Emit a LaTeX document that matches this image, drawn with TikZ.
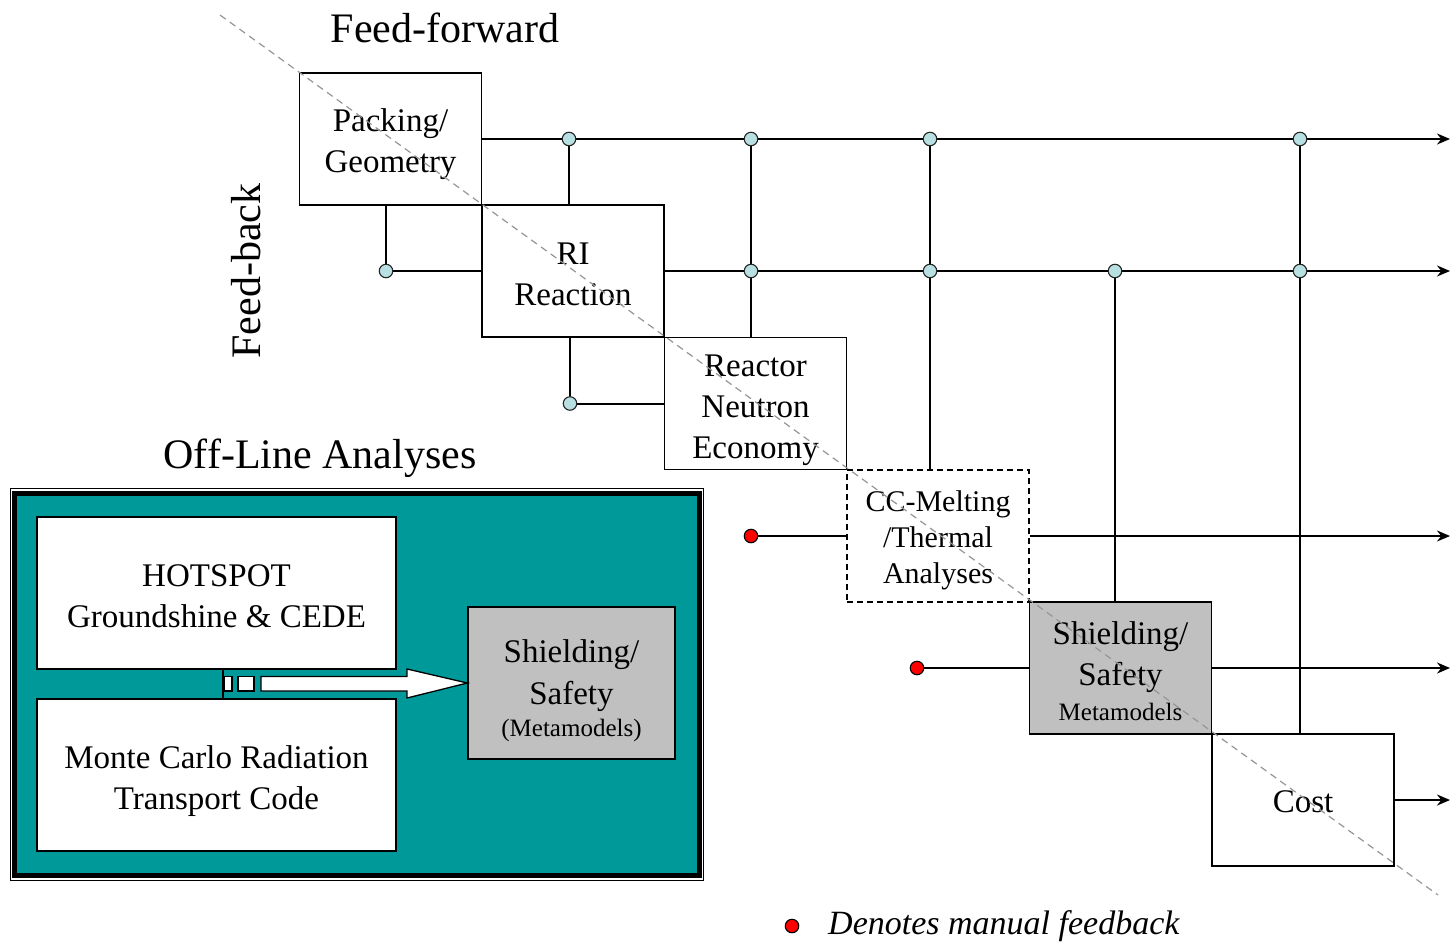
\documentclass[tikz,border=0pt]{standalone}
\usepackage{fontspec}
\setmainfont{Liberation Serif}
\usetikzlibrary{arrows.meta,calc}
\definecolor{junction}{RGB}{184,224,226}
\definecolor{tealfill}{RGB}{0,153,153}
\definecolor{silverfill}{RGB}{192,192,192}
\definecolor{diaggray}{RGB}{150,150,150}
% strut that sets the height of a node's first text line
\newcommand{\firstline}[1]{\rule{0pt}{#1}}
\tikzset{
  stage/.style={draw=black, line width=1.4pt, fill=white, inner sep=0pt,
    minimum width=182pt, minimum height=132pt, align=center,
    font=\fontsize{33}{41}\selectfont},
  link/.style={line width=2pt, black},
  outlink/.style={link, -{Stealth[length=13pt,width=11pt]}},
  jdot/.style={circle, fill=junction, draw=black!85, line width=1.1pt,
    inner sep=0pt, minimum size=13.5pt},
  rdot/.style={circle, fill=red, draw=black, line width=1.1pt,
    inner sep=0pt, minimum size=13.5pt},
  toolbox/.style={draw=black, line width=1.3pt, fill=white, inner sep=0pt,
    minimum width=359pt, minimum height=152pt, align=center,
    font=\fontsize{33}{41}\selectfont},
  heading/.style={font=\fontsize{42}{50}\selectfont, inner sep=0pt}
}
\begin{document}
\begin{tikzpicture}[x=1pt,y=-1pt]
\useasboundingbox (0,0) rectangle (1454,943);

% ---------- design chain ----------
\node[stage] (pack) at (390.5,139) {\firstline{33pt}Packing/\\Geometry};
\node[stage] (ri)   at (573,271)   {\firstline{29pt}RI\\Reaction};
\node[stage] (rne)  at (755.5,403.5) {\firstline{35pt}Reactor\\Neutron\\Economy};
\node[stage, dashed, dash pattern=on 6pt off 4pt, font=\fontsize{30}{36}\selectfont]
     (cc) at (938,536) {\firstline{28.5pt}CC-Melting\\/Thermal\\Analyses};
\node[stage, fill=silverfill] (shd) at (1120.5,668)
     {\firstline{29pt}Shielding/\\Safety\\[-6pt]{\fontsize{25}{30}\selectfont Metamodels}};
\node[stage] (cost) at (1303,800) {\firstline{26pt}Cost};

% output ends of the forward lines
\coordinate (o1) at (1450,139);
\coordinate (o2) at (1450,271);
\coordinate (o3) at (1450,536);
\coordinate (o4) at (1450,668);
\coordinate (o5) at (1450,800);

% junctions on the forward lines
\coordinate (a1) at (569,139);
\coordinate (a2) at (751,139);
\coordinate (a3) at (930,139);
\coordinate (a4) at (1300,139);
\coordinate (b1) at (751,271);
\coordinate (b2) at (930,271);
\coordinate (b3) at (1115,271);
\coordinate (b4) at (1300,271);

% feedback corners and manual inputs
\coordinate (f1) at (386,271);
\coordinate (f2) at (570,403.5);
\coordinate (m1) at (751,536);
\coordinate (m2) at (917,668);

% forward outputs
\draw[outlink] (pack.east) -- (o1);
\draw[outlink] (ri.east) -- (o2);
\draw[outlink] (cc.east) -- (o3);
\draw[outlink] (shd.east) -- (o4);
\draw[outlink] (cost.east) -- (o5);

% taps down into later stages
\draw[link] (a1) -- (a1 |- ri.north);
\draw[link] (a2) -- (a2 |- rne.north);
\draw[link] (a3) -- (a3 |- cc.north);
\draw[link] (b3) -- (b3 |- shd.north);
\draw[link] (a4) -- (a4 |- cost.north);

% feedback loops
\draw[link] (f1 |- pack.south) -- (f1) -- (ri.west);
\draw[link] (f2 |- ri.south) -- (f2) -- (rne.west);

% manual feedback inputs
\draw[link, line width=1.5pt] (m1) -- (cc.west);
\draw[link, line width=1.5pt] (m2) -- (shd.west);

% junction dots
\foreach \p in {a1,a2,a3,a4,b1,b2,b3,b4,f1,f2}
  \node[jdot] at (\p) {};
\node[rdot] at (m1) {};
\node[rdot] at (m2) {};

% diagonal separating feed-forward from feed-back
\draw[diaggray, line width=1.2pt, dash pattern=on 7pt off 5pt] (220,15) -- (1438,895);

% ---------- labels ----------
\node[heading, anchor=base] (ff) at (445,42) {Feed-forward};
\node[heading, rotate=90] (fb) at (246,271) {Feed-back};
\node[heading, anchor=base] (ola) at (320,468) {Off-Line Analyses};

% ---------- off-line analyses panel ----------
\draw[black, line width=1pt] (10,488) rectangle (703.5,880.5);
\draw[black, fill=tealfill, line width=5pt] (14.5,493) rectangle (699.5,875.5);

\node[toolbox] (hot) at (216.5,593) {\firstline{28pt}HOTSPOT\\Groundshine \& CEDE};
\node[toolbox] (mc)  at (216.5,775) {\firstline{34.5pt}Monte Carlo Radiation\\Transport Code};
\node[draw=black, line width=1.3pt, fill=silverfill, inner sep=0pt,
      minimum width=207pt, minimum height=152pt, align=center,
      font=\fontsize{33}{42}\selectfont] (offshd) at (571.5,683)
     {\firstline{39pt}Shielding/\\Safety\\[-10pt]{\fontsize{25}{30}\selectfont (Metamodels)}};

% joint of the two codes and the block arrow into the metamodels
\coordinate (jt) at (223,683);
\draw[black, line width=1.3pt] (jt |- hot.south) -- (jt |- mc.north);
\draw[black, fill=white, line width=1.3pt] (224,676.5) rectangle (232,691);
\draw[black, fill=white, line width=1.3pt] (238,676.5) rectangle (254,691);
\draw[black, fill=white, line width=1.3pt, line join=miter]
  (261,676.5) -- (407,676.5) -- (407,669) -- (offshd.west)
  -- (407,698) -- (407,691) -- (261,691) -- cycle;

% ---------- legend ----------
\node[rdot] (key) at (792,926) {};
\node[anchor=base west, inner sep=0pt, font=\fontsize{34}{40}\selectfont\itshape]
  (keytext) at (828,934) {Denotes manual feedback};
\end{tikzpicture}
\end{document}
